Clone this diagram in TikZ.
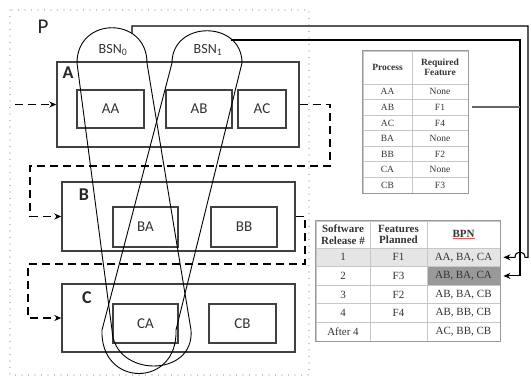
\documentclass[tikz,border=0pt]{standalone}
\usepackage{fontspec}
\setmainfont{Carlito}
\newfontfamily\tabfont{Liberation Serif}
\usetikzlibrary{arrows.meta, positioning}
\colorlet{boxline}{black!75}
\colorlet{gridline}{black!22}
\colorlet{rowshade}{black!10}
\colorlet{cellshade}{black!40}

\begin{document}
\begin{tikzpicture}[x=1pt, y=-1pt, >=Stealth,
    stage/.style={draw=boxline, line width=1.4pt, inner sep=0pt},
    proc/.style={draw=boxline, line width=1.4pt, inner sep=0pt, text=black!80, font=\fontsize{15}{17}\selectfont},
    stagelbl/.style={inner sep=0pt, text=black!85, font=\bfseries\fontsize{18}{20}\selectfont},
    bsnloop/.style={line width=0.9pt},
    bsnlbl/.style={inner sep=0pt, text=black!80, font=\fontsize{14}{16}\selectfont},
    flow/.style={line width=1.3pt, dash pattern=on 8pt off 5pt, -{Stealth[length=7pt, width=6pt]}},
    feed/.style={line width=1.1pt},
    tipend/.style={-{Stealth[length=7pt, width=6pt]}, shorten >=3pt},
    cellA/.style={draw=gridline, line width=0.8pt, inner sep=0pt, align=center, text=black!80, font=\tabfont\fontsize{9.5}{10}\selectfont},
    cellB/.style={draw=gridline, line width=0.8pt, inner sep=0pt, align=center, text=black!80, font=\tabfont\fontsize{11}{11.5}\selectfont},
  ]
  \useasboundingbox (0,0) rectangle (531,378);

  % plant boundary
  \draw[black!45, line width=1.1pt, dash pattern=on 0pt off 6.5pt, line cap=round] (10,10) rectangle (309,375);
  \node[inner sep=0pt, text=black!85, font=\fontsize{21}{24}\selectfont] (plbl) at (43,27) {P};

  % stages and processes
  \node[stage, minimum width=242pt, minimum height=85pt] (A) at (178,104.5) {};
  \node[stage, minimum width=233pt, minimum height=69pt] (B) at (178.5,216.5) {};
  \node[stage, minimum width=233pt, minimum height=68pt] (C) at (178.5,318) {};
  \node[stagelbl] (Albl) at (68,73) {A};
  \node[stagelbl] (Blbl) at (84,195) {B};
  \node[stagelbl] (Clbl) at (87,298) {C};

  \node[proc, minimum width=67pt, minimum height=38pt] (AA) at (110.5,109) {AA};
  \node[proc, minimum width=66pt, minimum height=38pt] (AB) at (199,109) {AB};
  \node[proc, minimum width=48pt, minimum height=38pt] (AC) at (262,109) {AC};
  \node[proc, minimum width=65pt, minimum height=40pt] (BA) at (145.5,227) {BA};
  \node[proc, minimum width=66pt, minimum height=40pt] (BB) at (244,227) {BB};
  \node[proc, minimum width=65pt, minimum height=39pt] (CA) at (145.5,323.5) {CA};
  \node[proc, minimum width=67pt, minimum height=39pt] (CB) at (242.5,323.5) {CB};

  % flow between stages
  \coordinate (feedin) at (15,104.5);
  \coordinate (ab1) at (330,166);
  \coordinate (ab2) at (30,166);
  \coordinate (bc1) at (305,264);
  \coordinate (bc2) at (28,264);
  \draw[flow] (feedin) -- (A.west);
  \draw[flow] (A.east) -| (ab1) -- (ab2) |- (B.west);
  \draw[flow] (B.east) -| (bc1) -- (bc2) |- (C.west);

  % BSN loops
  \draw[bsnloop] (77,63) .. controls (77,16) and (147,16) .. (147,63) -- (191,330)
    .. controls (195,378) and (114,378) .. (112,330) -- cycle;
  \draw[bsnloop] (172,63) .. controls (172,20) and (242,20) .. (242,63) -- (176,330)
    .. controls (178,388) and (100,388) .. (102,330) -- cycle;
  \node[bsnlbl] (bsn0) at (113,50) {BSN\textsubscript{0}};
  \node[bsnlbl] (bsn1) at (208,50) {BSN\textsubscript{1}};

  % process / feature table
  \node[cellA, minimum width=49pt, minimum height=33pt, font=\tabfont\bfseries\fontsize{9.5}{10}\selectfont] (prhead) at (387.5,67.5) {Process};
  \node[cellA, minimum width=56pt, minimum height=33pt, font=\tabfont\bfseries\fontsize{9.5}{10}\selectfont] (rfhead) at (440,67.5) {Required\\Feature};
  \foreach \p/\f [count=\i] in {AA/None, AB/F1, AC/F4, BA/None, BB/F2, CA/None, CB/F3} {
    \node[cellA, minimum width=49pt, minimum height=15.57pt] (pr\i) at (387.5,{84+15.57*(\i-0.5)}) {\p};
    \node[cellA, minimum width=56pt, minimum height=15.57pt] (rf\i) at (440,{84+15.57*(\i-0.5)}) {\f};
  }
  \draw[black!40, line width=1pt] (prhead.north west) rectangle (rf7.south east);

  % release table
  \node[cellB, minimum width=54pt, minimum height=27pt, font=\tabfont\bfseries\fontsize{11}{11.5}\selectfont] (swhead) at (343,234.5) {Software\\Release \#};
  \node[cellB, minimum width=57pt, minimum height=27pt, font=\tabfont\bfseries\fontsize{11}{11.5}\selectfont] (fphead) at (398.5,234.5) {Features\\Planned};
  \node[cellB, minimum width=73pt, minimum height=27pt, font=\tabfont\bfseries\fontsize{11}{11.5}\selectfont] (bpnhead) at (463.5,234.5) {{\color{red!70}\underline{\textcolor{black!80}{BPN}}}};
  \foreach \r/\f/\b/\sh/\bsh [count=\i] in {1/F1/{AA, BA, CA}/rowshade/rowshade, 2/F3/{AB, BA, CA}/white/cellshade,
      3/F2/{AB, BA, CB}/white/white, 4/F4/{AB, BB, CB}/white/white, After 4//{AC, BB, CB}/white/white} {
    \node[cellB, fill=\sh, minimum width=54pt, minimum height=18.6pt] (sw\i) at (343,{248+18.6*(\i-0.5)}) {\r};
    \node[cellB, fill=\sh, minimum width=57pt, minimum height=18.6pt] (fp\i) at (398.5,{248+18.6*(\i-0.5)}) {\f};
    \node[cellB, fill=\bsh, minimum width=73pt, minimum height=18.6pt] (bpn\i) at (463.5,{248+18.6*(\i-0.5)}) {\b};
  }
  \draw[black!40, line width=1pt] (swhead.north west) rectangle (bpn5.south east);

  % links from loops to releases
  \coordinate (b0out) at (132,33);
  \coordinate (b0turn) at (528,26);
  \coordinate (b1out) at (231,40);
  \coordinate (b1turn) at (520,40);
  \coordinate (hop) at (b1turn |- bpn1.east);
  \draw[feed, tipend] (b1out) -- (b1turn) |- (bpn2.east);
  \draw[feed, tipend] (b0out) |- (b0turn) -- (b0turn |- bpn1.east) -- ([xshift=5pt]hop)
    .. controls ([xshift=5pt, yshift=7pt]hop) and ([xshift=-5pt, yshift=7pt]hop) .. ([xshift=-5pt]hop) -- (bpn1.east);
  \draw[black!60, line width=2pt] ([xshift=4pt]rf2.east) -- (rf2.east -| b1turn);
\end{tikzpicture}
\end{document}
